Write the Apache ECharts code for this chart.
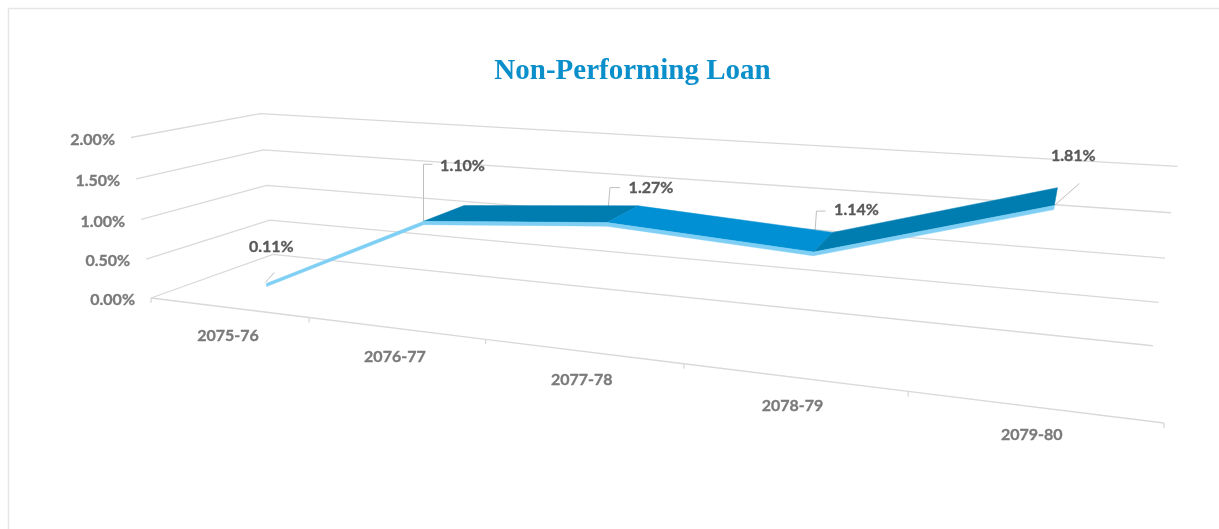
<!DOCTYPE html>
<html>
<head>
<meta charset="utf-8">
<style>html,body{margin:0;padding:0;background:#fff}#chart{width:1219px;height:529px}</style>
<script src="https://cdn.jsdelivr.net/npm/echarts@6/dist/echarts.min.js"></script>
</head>
<body>
<div id="chart"></div>
<script>
// Chart content
const chartTitle = 'Non-Performing Loan';
const categories = ['2075-76', '2076-77', '2077-78', '2078-79', '2079-80'];
const nplValues = [0.11, 1.10, 1.27, 1.14, 1.81];
const yTicks = [0, 0.5, 1.0, 1.5, 2.0];
const yMax = 2;

// Perspective camera: homogeneous projection of (u along categories, d into depth, t up the value axis)
const CAM = {
  O: [151, 298],
  U: [710.36, 15.02],
  D: [162.4, -6],
  T: [-25.24, -166],
  wu: -0.26,
  wd: 0.148,
  wt: -0.04
};
function project(u, d, t) {
  const w = 1 + CAM.wu * u + CAM.wd * d + CAM.wt * t;
  return [
    (CAM.O[0] + CAM.U[0] * u + CAM.D[0] * d + CAM.T[0] * t) / w,
    (CAM.O[1] + CAM.U[1] * u + CAM.D[1] * d + CAM.T[1] * t) / w
  ];
}

// Ribbon geometry in model space
const RIBBON = { front: 0.31, back: 0.72, drop: 0.04 };

// Callout layout relative to the front edge of each data point
const callouts = [
  { path: [[-1, -1], [8, -11]], label: [5, -37] },
  { path: [[0, 0], [0, -57], [9, -57]], label: [39, -55] },
  { path: [[0, 0], [3, -35], [13, -35]], label: [44, -35] },
  { path: [[0, 0], [3, -41], [12, -41]], label: [43, -42] },
  { path: [[0, 0], [25, -22]], label: [19, -50] }
];

const GRID_COLOR = '#d9d9d9';
const TICK_FONT = 'bold 16px Lato';

// Converts a value pair to the unit cube through the hidden cartesian axes
function toUnit(api, params, cat, val) {
  const c = api.coord([cat, val]);
  const r = params.coordSys;
  return [(c[0] - r.x) / r.width, 1 - (c[1] - r.y) / r.height];
}

function tickText(text, x, y, color, align) {
  return {
    type: 'text',
    silent: true,
    style: { text, x, y, font: TICK_FONT, fill: color, stroke: color, lineWidth: 0.35, textAlign: align, textVerticalAlign: 'middle' }
  };
}

function renderWall(params, api) {
  const v = api.value(1);
  const t = toUnit(api, params, 0, v)[1];
  const a = project(0, 0, t), b = project(0, 1, t), c = project(1, 1, t);
  return {
    type: 'group',
    children: [
      { type: 'polyline', silent: true, shape: { points: [a, b, c] }, style: { stroke: GRID_COLOR, lineWidth: 1.3, fill: 'none' } },
      tickText(v.toFixed(2) + '%', a[0] - 16, a[1] + 2, '#7a7a7a', 'right')
    ]
  };
}

function renderFloor(params, api) {
  const i = api.value(0);
  const centre = toUnit(api, params, i, 0)[0];
  const half = 0.5 / categories.length;
  const u0 = centre - half, u1 = centre + half;
  const a = project(u0, 0, 0), b = project(u1, 0, 0);
  const mid = project(centre, 0, 0);
  const children = [
    { type: 'line', silent: true, shape: { x1: a[0], y1: a[1], x2: b[0], y2: b[1] }, style: { stroke: GRID_COLOR, lineWidth: 1.3 } },
    { type: 'line', silent: true, shape: { x1: b[0], y1: b[1], x2: b[0], y2: b[1] + 5 }, style: { stroke: GRID_COLOR, lineWidth: 1.3 } },
    tickText(categories[i], mid[0], mid[1] + 28.5, '#7a7a7a', 'center')
  ];
  if (i === 0) {
    children.push({ type: 'line', silent: true, shape: { x1: a[0], y1: a[1], x2: a[0], y2: a[1] + 5 }, style: { stroke: GRID_COLOR, lineWidth: 1.3 } });
  }
  return { type: 'group', children };
}

function ribbonPoint(api, params, i, d, dropped) {
  const p = toUnit(api, params, i, nplValues[i]);
  return project(p[0], d, p[1] - (dropped ? RIBBON.drop / yMax : 0));
}

function signedArea(pts) {
  let s = 0;
  pts.forEach((p, k) => {
    const q = pts[(k + 1) % pts.length];
    s += p[0] * q[1] - q[0] * p[1];
  });
  return s / 2;
}

function renderCallouts(params, api) {
  const i = api.value(0);
  const o = ribbonPoint(api, params, i, RIBBON.front, false);
  const spec = callouts[i];
  return {
    type: 'group',
    children: [
      { type: 'polyline', silent: true, shape: { points: spec.path.map(s => [o[0] + s[0], o[1] + s[1]]) }, style: { stroke: '#bfbfbf', lineWidth: 1, fill: 'none' } },
      tickText(api.value(1).toFixed(2) + '%', o[0] + spec.label[0], o[1] + spec.label[1], '#595959', 'center')
    ]
  };
}

function renderRibbon(params, api) {
  const i = api.value(0);
  const children = [];
  if (i < categories.length - 1) {
    const f0 = ribbonPoint(api, params, i, RIBBON.front, false);
    const f1 = ribbonPoint(api, params, i + 1, RIBBON.front, false);
    const b0 = ribbonPoint(api, params, i, RIBBON.back, false);
    const b1 = ribbonPoint(api, params, i + 1, RIBBON.back, false);
    const l0 = ribbonPoint(api, params, i, RIBBON.front, true);
    const l1 = ribbonPoint(api, params, i + 1, RIBBON.front, true);
    const top = [f0, f1, b1, b0];
    // Falling segments catch the light; rising ones sit in shade
    const shade = nplValues[i + 1] < nplValues[i] ? '#0090d3' : '#007db0';
    if (signedArea(top) < 0) {
      children.push({ type: 'polygon', silent: true, shape: { points: top }, style: { fill: shade, stroke: shade, lineWidth: 0.5 } });
    }
    children.push({ type: 'polygon', silent: true, shape: { points: [f0, f1, l1, l0] }, style: { fill: '#7fcff5', stroke: '#7fcff5', lineWidth: 0.5 } });
  }
  return { type: 'group', children };
}

const pointRows = nplValues.map((v, i) => [i, v]);
const tickRows = yTicks.map((v, i) => [i, v]);

const option = {
  animation: false,
  backgroundColor: '#ffffff',
  title: {
    text: chartTitle,
    left: 627.5,
    top: 52,
    textAlign: 'center',
    textStyle: { fontFamily: 'Liberation Serif', fontWeight: 'bold', fontSize: 29, color: '#0a8fcb' }
  },
  graphic: [
    { type: 'polyline', silent: true, shape: { points: [[8.5, 529], [8.5, 8.5], [1219, 8.5]] }, style: { stroke: '#e6e6e6', lineWidth: 1.5, fill: 'none' } }
  ],
  grid: { left: 100, right: 100, top: 100, bottom: 100 },
  xAxis: { type: 'category', data: categories, show: false },
  yAxis: { type: 'value', min: 0, max: yMax, interval: 0.5, show: false },
  tooltip: { show: false },
  series: [
    { type: 'custom', name: 'walls', data: tickRows, renderItem: renderWall, clip: false, z: 1 },
    { type: 'custom', name: 'floor', data: pointRows, renderItem: renderFloor, clip: false, z: 1 },
    { type: 'custom', name: 'callouts', data: pointRows, renderItem: renderCallouts, clip: false, z: 2 },
    { type: 'custom', name: 'Non-Performing Loan', data: pointRows, renderItem: renderRibbon, clip: false, z: 3 }
  ]
};

echarts.init(document.getElementById('chart'), null, { renderer: 'canvas' }).setOption(option);
</script>
</body>
</html>
